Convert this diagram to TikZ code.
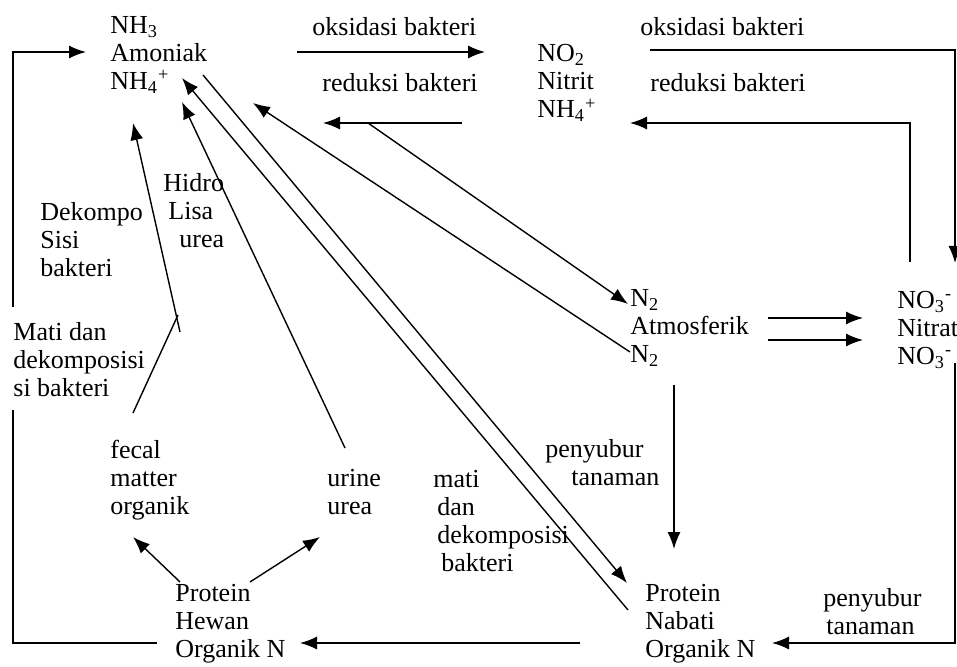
\documentclass[tikz,border=0pt]{standalone}
\usepackage{fontspec}
\setmainfont{Liberation Serif}
\usetikzlibrary{arrows.meta}
\begin{document}
\begin{tikzpicture}[x=0.5pt, y=-0.5pt, font=\fontsize{13}{14}\selectfont]
\tikzstyle{zat} = [align=left, anchor=west, inner sep=0pt]
\tikzstyle{ket} = [align=left, anchor=west, inner sep=0pt]
\tikzstyle{garis} = [line width=0.7pt]
\tikzstyle{panah} = [garis, -{Latex[length=8.5pt,width=6.5pt]}]
\useasboundingbox (0,0) rectangle (957,667);

\node[zat] (amoniak) at (110,55) {NH\textsubscript{3}\\Amoniak\\NH\textsubscript{4}\textsuperscript{+}};
\node[zat] (nitrit) at (537,83) {NO\textsubscript{2}\\Nitrit\\NH\textsubscript{4}\textsuperscript{+}};
\node[zat] (atmos) at (630,328) {N\textsubscript{2}\\Atmosferik\\N\textsubscript{2}};
\node[zat] (nitrat) at (897,330) {NO\textsubscript{3}\textsuperscript{-}\\Nitrat\\NO\textsubscript{3}\textsuperscript{-}};
\node[zat] (nabati) at (645,624) {Protein\\Nabati\\Organik N};
\node[zat] (hewan) at (175,624) {Protein\\Hewan\\Organik N};
\node[zat] (fecal) at (110,480) {fecal\\matter\\organik};
\node[zat] (urine) at (327,492) {urine\\urea};

\node[ket] (oks1) at (312,27) {oksidasi bakteri};
\node[ket] (oks2) at (640,27) {oksidasi bakteri};
\node[ket] (red1) at (322,83) {reduksi bakteri};
\node[ket] (red2) at (650,83) {reduksi bakteri};
\node[ket] (hidro) at (163,211) {Hidro\\\hspace{2.5pt}Lisa\\\hspace{8pt}urea};
\node[ket] (dekompo) at (40,240) {Dekompo\\Sisi\\bakteri};
\node[ket] (matidan) at (13,360) {Mati dan\\dekomposisi\\si bakteri};
\node[ket] (matidek) at (433,521) {mati\\\hspace{2pt}dan\\\hspace{2pt}dekomposisi\\\hspace{4pt}bakteri};
\node[ket] (subur1) at (545,463) {penyubur\\\hspace{13pt}tanaman};
\node[ket] (subur2) at (823,612) {penyubur\\\hspace{1.5pt}tanaman};

\coordinate (a1) at (297,52);   \coordinate (a2) at (485,52);
\coordinate (b1) at (650,50);   \coordinate (b2) at (955,263);
\coordinate (c1) at (462,123);  \coordinate (c2) at (323,123);
\coordinate (d1) at (910,262);  \coordinate (d2) at (630,123);
\coordinate (e1) at (157,643);  \coordinate (e2) at (13,410);
\coordinate (e3) at (13,307);   \coordinate (e4) at (86,52);
\coordinate (f1) at (133,413);  \coordinate (f2) at (178,315);
\coordinate (g1) at (180,332);  \coordinate (g2) at (133,123);
\coordinate (h1) at (345,448);  \coordinate (h2) at (182,102);
\coordinate (i1) at (628,610);  \coordinate (i2) at (182,78);
\coordinate (j1) at (203,75);   \coordinate (j2) at (627,583);
\coordinate (k1) at (368,123);  \coordinate (k2) at (628,304);
\coordinate (l1) at (630,352);  \coordinate (l2) at (253,103);
\coordinate (m1) at (768,318);  \coordinate (m2) at (863,318);
\coordinate (n1) at (768,340);  \coordinate (n2) at (863,340);
\coordinate (o1) at (674,385);  \coordinate (o2) at (674,549);
\coordinate (p1) at (955,363);  \coordinate (p2) at (772,643);
\coordinate (q1) at (580,643);  \coordinate (q2) at (300,643);
\coordinate (r1) at (180,582);  \coordinate (r2) at (133,537);
\coordinate (s1) at (250,582);  \coordinate (s2) at (320,537);

\draw[panah] (a1) -- (a2);
\draw[panah] (b1) -| (b2);
\draw[panah] (c1) -- (c2);
\draw[panah] (d1) |- (d2);
\draw[garis] (e1) -| (e2);
\draw[panah] (e3) |- (e4);
\draw[garis] (f1) -- (f2);
\draw[panah] (g1) -- (g2);
\draw[panah] (h1) -- (h2);
\draw[panah] (i1) -- (i2);
\draw[panah] (j1) -- (j2);
\draw[panah] (k1) -- (k2);
\draw[panah] (l1) -- (l2);
\draw[panah] (m1) -- (m2);
\draw[panah] (n1) -- (n2);
\draw[panah] (o1) -- (o2);
\draw[panah] (p1) |- (p2);
\draw[panah] (q1) -- (q2);
\draw[panah] (r1) -- (r2);
\draw[panah] (s1) -- (s2);
\end{tikzpicture}
\end{document}
